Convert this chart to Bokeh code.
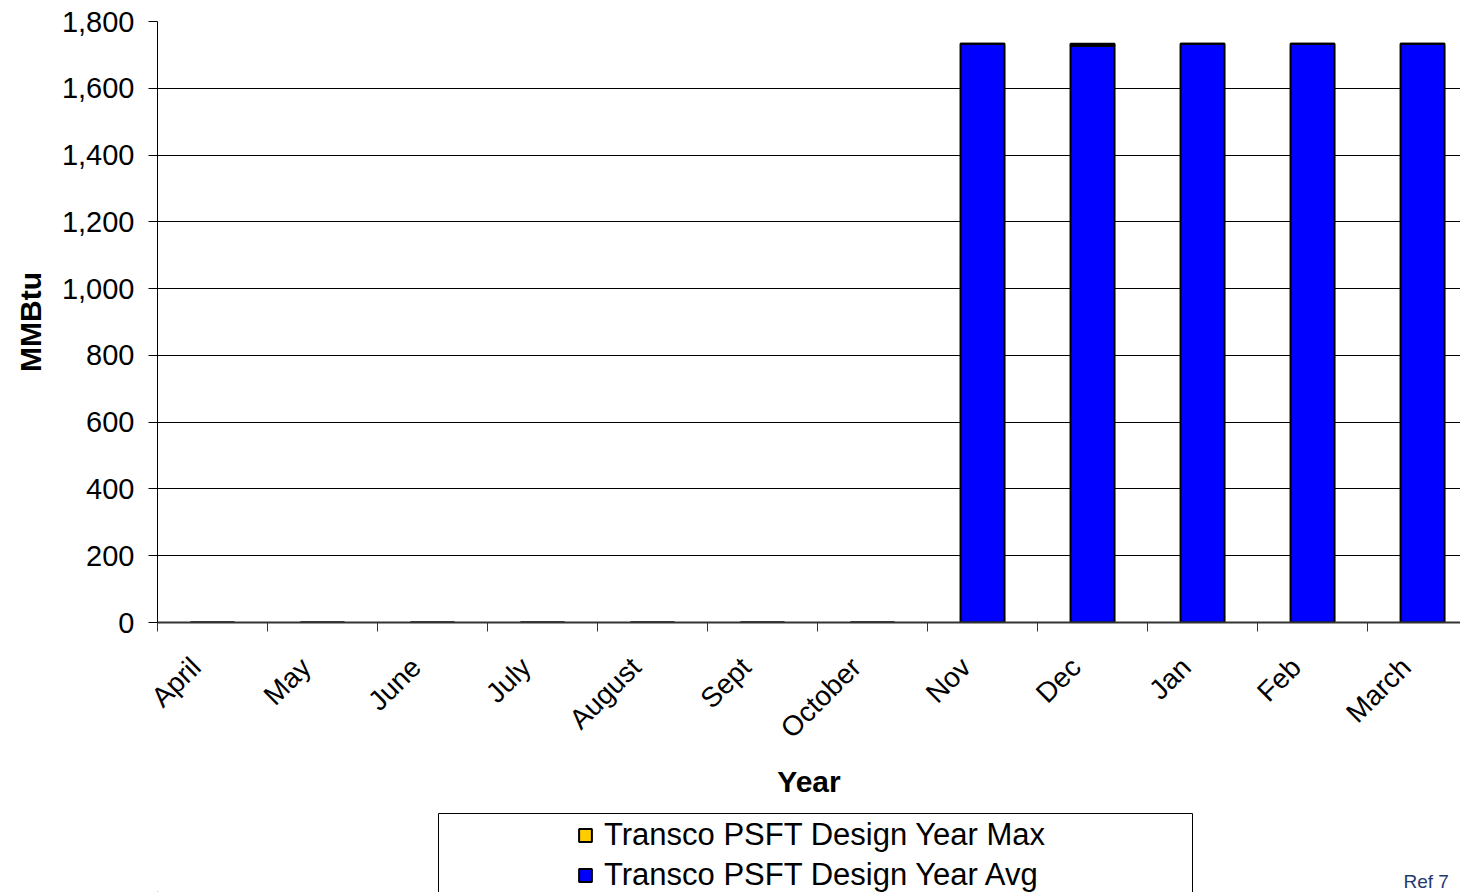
from bokeh.plotting import figure
from bokeh.layouts import column
from bokeh.models import (ColumnDataSource, Range1d, FixedTicker, NumeralTickFormatter,
                          Legend, LegendItem, Label)
from bokeh.embed import file_html
from bokeh.resources import INLINE
import math

# Monthly gas volumes (MMBtu), design year
months = ["April", "May", "June", "July", "August", "Sept", "October",
          "Nov", "Dec", "Jan", "Feb", "March"]
design_avg = [0, 0, 0, 0, 0, 0, 0, 1733, 1727, 1733, 1733, 1733]
design_max = [0, 0, 0, 0, 0, 0, 0, 0, 6, 0, 0, 0]
y_ticks = [0, 200, 400, 600, 800, 1000, 1200, 1400, 1600, 1800]
series_names = ["Transco PSFT Design Year Max", "Transco PSFT Design Year Avg"]

FONT = "Liberation Sans"
BLUE = "#0000FF"
YELLOW = "#FFCC00"
W = 1460
LEFT = 157
TOP_H = 805
BOTTOM_H = 87

centers = [i + 0.5 for i in range(len(months))]
src = ColumnDataSource(dict(x=centers, avg=design_avg, mx=design_max))

p = figure(width=W, height=TOP_H, output_backend="svg", toolbar_location=None,
           x_range=Range1d(0, 11.845), y_range=Range1d(0, 1800),
           min_border_left=LEFT, min_border_right=0, min_border_top=21,
           min_border_bottom=TOP_H - 622)
p.outline_line_color = None
p.background_fill_color = "white"
p.border_fill_color = "white"

rs = p.vbar_stack(["avg", "mx"], x="x", width=0.4, source=src,
                  fill_color=[BLUE, YELLOW], line_color="black", line_width=2)

# x axis: rotated labels hang just left of each category centre,
# tick marks sit on the category boundaries
label_pos = [round(c - 0.15, 2) for c in centers]
p.xaxis.ticker = FixedTicker(ticks=label_pos, minor_ticks=list(range(0, 13)))
p.xaxis.major_label_overrides = {c: m for c, m in zip(label_pos, months)}
p.xaxis.major_label_orientation = math.pi / 4
p.xaxis.major_tick_out = 0
p.xaxis.major_tick_in = 0
p.xaxis.minor_tick_out = 9
p.xaxis.minor_tick_in = 0
p.xaxis.minor_tick_line_color = "#333333"
p.xaxis.axis_line_color = "#333333"
p.xaxis.axis_line_width = 2
p.xaxis.major_label_standoff = 31
p.xaxis.major_label_text_font = FONT
p.xaxis.major_label_text_font_size = "28px"
p.xaxis.major_label_text_color = "black"
p.xaxis.axis_label = "Year"
p.xaxis.axis_label_text_font = FONT
p.xaxis.axis_label_text_font_style = "bold"
p.xaxis.axis_label_text_font_size = "30px"
p.xaxis.axis_label_text_color = "black"
p.xaxis.axis_label_standoff = 7

# y axis
p.yaxis.ticker = FixedTicker(ticks=y_ticks)
p.yaxis.formatter = NumeralTickFormatter(format="0,0")
p.yaxis.major_tick_out = 9
p.yaxis.major_tick_in = 0
p.yaxis.minor_tick_line_color = None
p.yaxis.axis_line_color = "black"
p.yaxis.major_tick_line_color = "black"
p.yaxis.major_label_standoff = 14
p.yaxis.major_label_text_font = FONT
p.yaxis.major_label_text_font_size = "29px"
p.yaxis.major_label_text_color = "black"
p.yaxis.axis_label = "MMBtu"
p.yaxis.axis_label_text_font = FONT
p.yaxis.axis_label_text_font_style = "bold"
p.yaxis.axis_label_text_font_size = "30px"
p.yaxis.axis_label_text_color = "black"
p.yaxis.axis_label_standoff = 12

p.xgrid.grid_line_color = None
p.ygrid.grid_line_color = "black"
p.ygrid.grid_line_width = 1

# strip below the chart carrying the legend and the reference note;
# its frame lines up with the chart frame, x range is in page pixels
leg = figure(width=W, height=BOTTOM_H, output_backend="svg", toolbar_location=None,
             x_range=Range1d(LEFT, W), y_range=Range1d(0, BOTTOM_H),
             x_axis_type=None, y_axis_type=None,
             min_border_left=LEFT, min_border_right=0, min_border_top=0, min_border_bottom=0)
leg.outline_line_color = None
leg.xgrid.grid_line_color = None
leg.ygrid.grid_line_color = None
leg.background_fill_color = "white"
leg.border_fill_color = "white"

# legend frame
leg.quad(left=[438], right=[1192], top=[79], bottom=[-40],
         fill_color="white", line_color="black", line_width=1)

# swatch renderers (parked well outside the visible strip)
swatch_max = leg.vbar(x=[-5000], top=[0], width=1, fill_color=YELLOW,
                      line_color="black", line_width=2)
swatch_avg = leg.vbar(x=[-5000], top=[0], width=1, fill_color=BLUE,
                      line_color="black", line_width=2)

legend = Legend(items=[LegendItem(label=series_names[0], renderers=[swatch_max]),
                       LegendItem(label=series_names[1], renderers=[swatch_avg])],
                location=(577 - LEFT, -1), orientation="vertical",
                border_line_color=None, background_fill_alpha=0,
                label_text_font=FONT, label_text_font_size="31px",
                label_text_color="black",
                glyph_width=16, glyph_height=16, label_standoff=11,
                label_height=30, spacing=4, padding=0, margin=0)
leg.add_layout(legend, "center")

ref = Label(x=1403, y=11, text="Ref 7", text_font=FONT, text_font_size="19px",
            text_color="#1F3A6E", text_baseline="middle", text_align="left")
leg.add_layout(ref)

layout = column(p, leg, spacing=0)
open("out.html", "w").write(file_html(layout, INLINE))
